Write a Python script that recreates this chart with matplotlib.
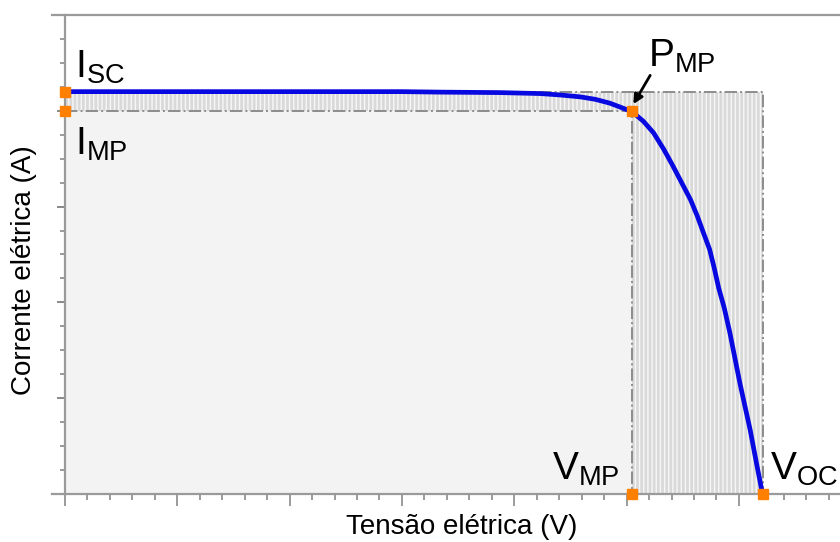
import numpy as np
import matplotlib
matplotlib.use("Agg")
import matplotlib.pyplot as plt
from matplotlib.patches import Polygon, Rectangle

plt.rcParams['font.family'] = ['Liberation Sans', 'DejaVu Sans']
plt.rcParams['mathtext.fontset'] = 'custom'
plt.rcParams['mathtext.rm'] = 'Liberation Sans'
plt.rcParams['hatch.linewidth'] = 1.0

# curva I-V (unidades arbitrarias)
tensao = [0, 1.0, 2.0, 3.0, 3.34, 3.87, 4.23, 4.41, 4.59, 4.72, 4.85, 4.94,
          5.05, 5.15, 5.24, 5.33, 5.41, 5.49, 5.57, 5.63, 5.68, 5.74, 5.78,
          5.82, 5.87, 5.92, 6.01, 6.10, 6.16, 6.21]
corrente = [4.2, 4.2, 4.2, 4.2, 4.195, 4.19, 4.18, 4.165, 4.145, 4.12, 4.08, 4.04,
            3.99, 3.89, 3.77, 3.60, 3.43, 3.25, 3.07, 2.90, 2.74, 2.55, 2.36,
            2.15, 1.94, 1.68, 1.15, 0.67, 0.30, 0.0]

Isc = 4.2
Imp = 4.0
Vmp = 5.05
Voc = 6.21

rotulos = {'Isc': r'$\mathrm{I_{SC}}$', 'Imp': r'$\mathrm{I_{MP}}$',
           'Pmp': r'$\mathrm{P_{MP}}$', 'Vmp': r'$\mathrm{V_{MP}}$',
           'Voc': r'$\mathrm{V_{OC}}$'}

fig = plt.figure(figsize=(8.4, 5.42), dpi=100)
ax = fig.add_axes([65/840, 48/542, 1 - 65/840, 479/542])
ax.set_xlim(0, 6.9)
ax.set_ylim(0, 5)

# areas
ax.add_patch(Rectangle((0, 0), Vmp, Imp, facecolor='#f3f3f3', edgecolor='none', zorder=0))
ax.add_patch(Polygon([(0, Imp), (0, Isc), (Voc, Isc), (Voc, 0), (Vmp, 0), (Vmp, Imp)],
                     closed=True, facecolor='#d9d9d9', edgecolor='#f7f7f7',
                     hatch='||||', linewidth=0, zorder=0.5))

# linhas tracejadas
cinza = '#8c8c8c'
ax.plot([0, Vmp, Vmp], [Imp, Imp, 0], ls='-.', color=cinza, lw=1.4, zorder=1)
ax.plot([0, Voc, Voc], [Isc, Isc, 0], ls='-.', color=cinza, lw=1.4, zorder=1)

# curva
ax.plot(tensao, corrente, color='#0808e0', lw=3.4, zorder=3,
        solid_capstyle='round', solid_joinstyle='round')

# pontos
laranja = '#ff8000'
ax.plot([0, 0, Vmp, Vmp, Voc], [Isc, Imp, Imp, 0, 0], ls='none', marker='s',
        ms=7, color=laranja, zorder=5, clip_on=False)

# textos
fs = 28
ax.text(0.09, 4.35, rotulos['Isc'], fontsize=fs, ha='left', va='baseline')
ax.text(0.09, 3.54, rotulos['Imp'], fontsize=fs, ha='left', va='baseline')
ax.text(5.19, 4.46, rotulos['Pmp'], fontsize=fs, ha='left', va='baseline')
ax.text(4.34, 0.15, rotulos['Vmp'], fontsize=fs, ha='left', va='baseline')
ax.text(6.28, 0.15, rotulos['Voc'], fontsize=fs, ha='left', va='baseline')

ax.annotate('', xy=(5.06, 4.07), xytext=(5.21, 4.37),
            arrowprops=dict(arrowstyle='-|>', color='black', lw=2, mutation_scale=14,
                            shrinkA=0, shrinkB=0))

# eixos
ax.spines['right'].set_visible(False)
for s in ['left', 'bottom', 'top']:
    ax.spines[s].set_color('#9a9a9a')
    ax.spines[s].set_linewidth(1.6)
ax.spines['bottom'].set_bounds(-0.116, 6.9)
ax.spines['top'].set_bounds(-0.116, 6.9)

ax.set_xticks(np.arange(0, 7, 1))
ax.set_xticks(np.arange(0, 6.95, 0.2), minor=True)
ax.set_yticks(np.arange(0, 5.01, 1))
ax.set_yticks(np.arange(0, 5.01, 0.25), minor=True)
ax.tick_params(axis='x', which='major', direction='out', length=8.5, width=1.1, color='#808080')
ax.tick_params(axis='x', which='minor', direction='out', length=4.3, width=1.1, color='#808080')
ax.tick_params(axis='y', which='major', direction='out', length=5.5, width=1.3, color='#808080')
ax.tick_params(axis='y', which='minor', direction='out', length=3.8, width=1.1, color='#808080')
ax.tick_params(labelbottom=False, labelleft=False, top=False, right=False)

ax.set_xlabel('Tensão elétrica (V)', fontsize=20)
ax.set_ylabel('Corrente elétrica (A)', fontsize=20)
ax.xaxis.set_label_coords((462 - 65) / 775, -(514 - 494) / 479)
ax.yaxis.set_label_coords(-(65 - 37) / 775, (494 - 270) / 479)

fig.savefig('out.png', dpi=100)
